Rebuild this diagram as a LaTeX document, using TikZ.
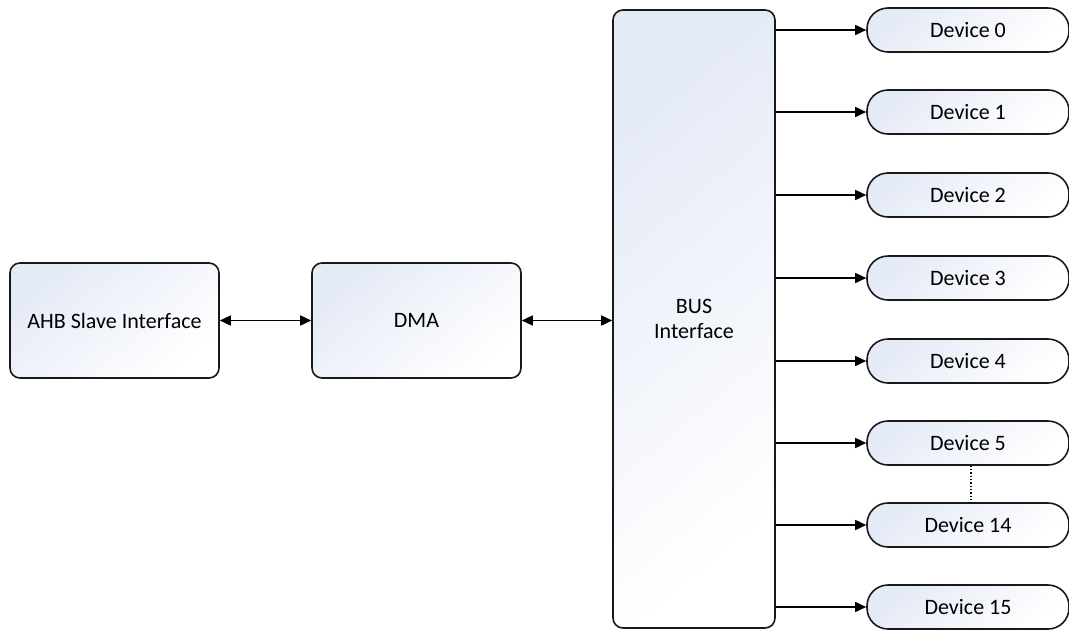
\documentclass[tikz,border=0pt]{standalone}
\usepackage{fontspec}
\setmainfont{Carlito}
\usetikzlibrary{arrows.meta}
\definecolor{boxtint}{HTML}{E4EAF6}
\tikzset{
  gradbox/.style={draw=black!90, line width=1.6pt, top color=boxtint, bottom color=white, shading angle=40},
  blockbox/.style={gradbox, rounded corners=10pt, minimum width=209pt, minimum height=115pt, inner sep=0pt},
  busbox/.style={gradbox, rounded corners=10pt, minimum width=162pt, minimum height=618pt, inner sep=0pt, align=center},
  devbox/.style={gradbox, rounded corners=21pt, minimum width=202pt, minimum height=44pt, inner sep=0pt},
  link/.style={line width=1.6pt, -{Triangle[length=11pt,width=10pt]}},
  biglink/.style={line width=1.6pt, {Triangle[length=11pt,width=10pt]}-{Triangle[length=11pt,width=10pt]}}
}
\begin{document}
\begin{tikzpicture}[x=1pt,y=-1pt,font=\fontsize{22}{26}\selectfont]
\useasboundingbox (0,0) rectangle (1069,632);
\node[blockbox] (ahb) at (114.5,320.5) {AHB Slave Interface};
\node[blockbox] (dma) at (416.5,320.5) {DMA};
\node[busbox] (bus) at (694,319) {BUS\\[-1pt]Interface};
\node[devbox] (d0) at (968,30) {Device 0};
\node[devbox] (d1) at (968,112) {Device 1};
\node[devbox] (d2) at (968,195) {Device 2};
\node[devbox] (d3) at (968,278) {Device 3};
\node[devbox] (d4) at (968,361) {Device 4};
\node[devbox] (d5) at (968,443) {Device 5};
\node[devbox] (d14) at (968,525) {Device 14};
\node[devbox] (d15) at (968,607) {Device 15};
\draw[biglink] (ahb.east) -- (dma.west);
\draw[biglink] (dma.east) -- (bus.west |- dma.east);
\foreach \d in {d0,d1,d2,d3,d4,d5,d14,d15}{
  \draw[link] (bus.east |- \d.west) -- (\d.west);
}
\draw[line width=1.3pt, dotted] ([xshift=3pt]d5.south) -- ([xshift=3pt]d14.north);
\end{tikzpicture}
\end{document}
